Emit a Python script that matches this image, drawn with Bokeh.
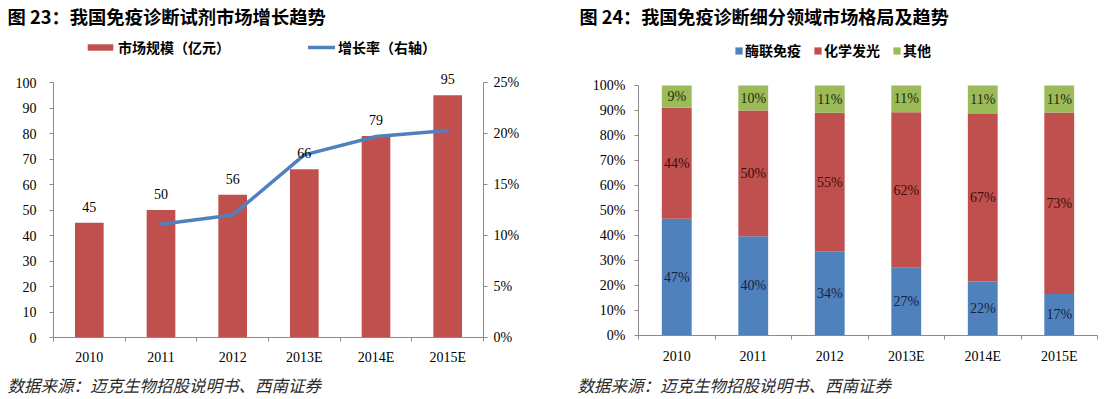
from bokeh.plotting import figure
from bokeh.models import (Range1d, LinearAxis, FixedTicker, PrintfTickFormatter,
                          Label, Legend, LegendItem, ColumnDataSource, LabelSet)
from bokeh.layouts import row
from bokeh.embed import file_html
from bokeh.resources import INLINE

# ---------------- data ----------------
years = ["2010", "2011", "2012", "2013E", "2014E", "2015E"]
market_size = [45, 50, 56, 66, 79, 95]                      # 亿元
growth_pct = [float("nan"), 11.1, 12.0, 17.9, 19.7, 20.3]   # %
elisa = [46.7, 39.7, 33.7, 27.1, 21.6, 16.6]                # %
clia = [44.4, 50.3, 55.4, 62.2, 67.0, 72.6]                 # %
other = [8.9, 10.0, 10.9, 10.7, 11.4, 10.8]                 # %

title1 = "图 23：我国免疫诊断试剂市场增长趋势"
title2 = "图 24：我国免疫诊断细分领域市场格局及趋势"
source_text = "数据来源：迈克生物招股说明书、西南证券"
leg1 = ["市场规模（亿元）", "增长率（右轴）"]
leg2 = ["酶联免疫", "化学发光", "其他"]

RED = "#C0504D"
BLUE = "#4F81BD"
GREEN = "#9BBB59"
AXIS = "#8a8a8a"
SERIF = "Liberation Serif"
CJK = "Noto Sans CJK SC"
H = 399

xc = [i + 0.5 for i in range(len(years))]
boundaries = list(range(len(years) + 1))


def span(p0, p1, v0, v1, total):
    """range whose values v0, v1 land on canvas pixels p0, p1 (canvas 0..total)"""
    k = (v1 - v0) / (p1 - p0)
    return v0 - p0 * k, v0 + (total - p0) * k


def x_axis(standoff):
    ax = LinearAxis(fixed_location=0, bounds=(0, len(years)),
                    ticker=FixedTicker(ticks=xc, minor_ticks=boundaries))
    ax.major_label_overrides = {x: y for x, y in zip(xc, years)}
    ax.major_tick_line_color = None
    ax.major_tick_out = 4
    ax.major_tick_in = 0
    ax.minor_tick_line_color = AXIS
    ax.minor_tick_out = 4
    ax.minor_tick_in = 0
    ax.axis_line_color = AXIS
    ax.major_label_text_font = SERIF
    ax.major_label_text_font_size = "14px"
    ax.major_label_text_color = "#000000"
    ax.major_label_standoff = standoff
    return ax


def y_axis(ax, standoff):
    ax.axis_line_color = AXIS
    ax.major_tick_line_color = AXIS
    ax.major_tick_out = 4
    ax.major_tick_in = 0
    ax.minor_tick_line_color = None
    ax.major_label_text_font = SERIF
    ax.major_label_text_font_size = "14px"
    ax.major_label_text_color = "#000000"
    ax.major_label_standoff = standoff
    return ax


def base_fig(w, xr, yr):
    p = figure(width=w, height=H, x_range=Range1d(*xr), y_range=Range1d(*yr),
               output_backend="svg", toolbar_location=None, title=None,
               x_axis_location=None, y_axis_location=None,
               min_border_left=0, min_border_right=0, min_border_top=0, min_border_bottom=0)
    p.xgrid.visible = False
    p.ygrid.visible = False
    p.outline_line_color = None
    p.background_fill_color = "white"
    p.border_fill_color = "white"
    return p


def legend(items, x, y, gw, gh, standoff, size, spacing=0):
    return Legend(items=items, location=(x, y), orientation="horizontal",
                  glyph_width=gw, glyph_height=gh, label_height=16,
                  label_standoff=standoff, spacing=spacing, padding=0, margin=0,
                  border_line_alpha=0, background_fill_alpha=0, label_text_font=CJK,
                  label_text_font_style="bold", label_text_font_size=size,
                  label_text_color="#000000")


def text_label(x, y, txt, size, style):
    return Label(x=x, y=H - y, x_units="screen", y_units="screen", text=txt,
                 text_font=CJK, text_font_style=style, text_font_size=size,
                 text_baseline="middle", text_color="#000000" if style == "bold" else "#2a2a2a")


# ---------------- left chart ----------------
W1 = 550
xr1 = span(53, 483, 0, len(years), W1)
yr1 = span(H - 337, H - 82, 0, 100, H)  # bottom-up pixels
p1 = base_fig(W1, xr1, yr1)
p1.extra_y_ranges = {"g": Range1d(yr1[0] / 4, yr1[1] / 4)}

p1.add_layout(x_axis(8), "below")
p1.add_layout(y_axis(LinearAxis(fixed_location=0, bounds=(0, 100),
                                ticker=FixedTicker(ticks=list(range(0, 101, 10)))), 13), "left")
p1.add_layout(y_axis(LinearAxis(y_range_name="g", fixed_location=len(years), bounds=(0, 25),
                                ticker=FixedTicker(ticks=[0, 5, 10, 15, 20, 25]),
                                formatter=PrintfTickFormatter(format="%d%%")), 6), "right")

src1 = ColumnDataSource(dict(x=xc, top=market_size, lbl=[str(v) for v in market_size]))
bars = p1.vbar(x="x", top="top", width=0.4, source=src1, fill_color=RED, line_color=None)
line = p1.line(x=xc, y=growth_pct, y_range_name="g", line_width=3.5, line_color=BLUE,
               line_join="round", line_cap="round")
p1.add_layout(LabelSet(x="x", y="top", text="lbl", source=src1, text_align="center",
                       text_baseline="bottom", y_offset=11, text_font=SERIF,
                       text_font_size="14px", text_color="#000000"))

p1.add_layout(legend([LegendItem(label=leg1[0], renderers=[bars])], 84, H - 57, 32, 8, 2, "14px"),
              "center")
p1.add_layout(legend([LegendItem(label=leg1[1], renderers=[line])], 308, H - 57, 27, 8, 3, "14px"),
              "center")
p1.add_layout(text_label(7, 15, title1, "18.3px", "bold"))
p1.add_layout(text_label(7, 384, source_text, "16.5px", "italic"))

# ---------------- right chart ----------------
W2 = 555
xr2 = span(88, 547, 0, len(years), W2)
yr2 = span(H - 335, H - 85, 0, 100, H)
p2 = base_fig(W2, xr2, yr2)
p2.add_layout(x_axis(9), "below")
p2.add_layout(y_axis(LinearAxis(fixed_location=0, bounds=(0, 100),
                                ticker=FixedTicker(ticks=list(range(0, 101, 10))),
                                formatter=PrintfTickFormatter(format="%d%%")), 9), "left")

src2 = ColumnDataSource(dict(x=xc, elisa=elisa, clia=clia, other=other))
stack = p2.vbar_stack(["elisa", "clia", "other"], x="x", width=0.39, source=src2,
                      fill_color=[BLUE, RED, GREEN], line_color=None)

lx, ly, lt, lc = [], [], [], []
seg_colors = ["#16233f", "#3d0b0b", "#1f2a0c"]
for i in range(len(years)):
    base = 0.0
    for vals, col in zip([elisa, clia, other], seg_colors):
        v = vals[i]
        lx.append(xc[i])
        ly.append(base + v / 2)
        lt.append(f"{round(v)}%")
        lc.append(col)
        base += v
p2.add_layout(LabelSet(x="x", y="y", text="t", text_color="c",
                       source=ColumnDataSource(dict(x=lx, y=ly, t=lt, c=lc)),
                       text_align="center", text_baseline="middle", text_font=SERIF,
                       text_font_size="14px"))

p2.add_layout(legend([LegendItem(label=leg2[k], renderers=[stack[k]]) for k in range(3)],
                     184, H - 60, 9, 9, 2, "14px", spacing=12), "center")
p2.add_layout(text_label(29, 15, title2, "18.1px", "bold"))
p2.add_layout(text_label(27, 384, source_text, "16.5px", "italic"))

layout = row(p1, p2)
open("out.html", "w").write(file_html(layout, INLINE))
